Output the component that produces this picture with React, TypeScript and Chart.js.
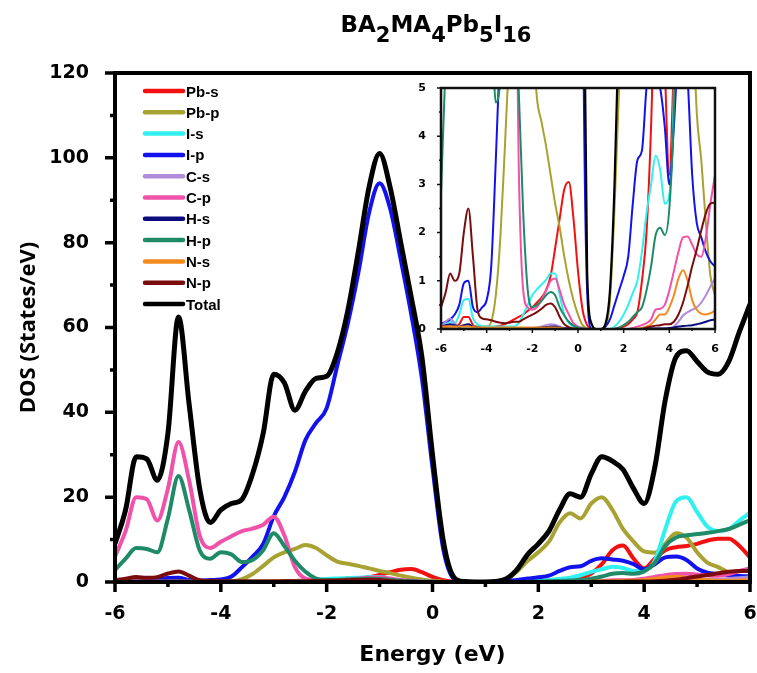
import React, { useEffect, useRef } from "react";
import { Chart, registerables } from "chart.js";

Chart.register(...registerables);

// ---------- data ----------
const energy = [
  -6.0, -5.8, -5.6, -5.4, -5.2, -5.0, -4.8, -4.6, -4.4, -4.2,
  -4.0, -3.8, -3.6, -3.4, -3.2, -3.0, -2.8, -2.6, -2.4, -2.2,
  -2.0, -1.8, -1.6, -1.4, -1.2, -1.0, -0.8, -0.6, -0.4, -0.2,
  0.0, 0.2, 0.4, 0.6, 0.8, 1.0, 1.2, 1.4, 1.6, 1.8,
  2.0, 2.2, 2.4, 2.6, 2.8, 3.0, 3.2, 3.4, 3.6, 3.8,
  4.0, 4.2, 4.4, 4.6, 4.8, 5.0, 5.2, 5.4, 5.6, 5.8,
  6.0,
];

const pbS = [
  0.02, 0.03, 0.05, 0.05, 0.1, 0.25, 0.25, 0.08, 0.04, 0.03,
  0.03, 0.03, 0.05, 0.07, 0.1, 0.15, 0.2, 0.25, 0.3, 0.38,
  0.45, 0.55, 0.65, 0.8, 1.1, 1.68, 2.3, 2.9, 3.05, 2.3,
  1.2, 0.4, 0.08, 0.01, 0, 0, 0, 0, 0.01, 0.03,
  0.05, 0.1, 0.2, 0.35, 1.0, 2.0, 4.2, 7.5, 8.6, 5.5,
  3.2, 5.5, 7.5, 8.2, 8.5, 9.0, 9.8, 10.2, 10.2, 8.5,
  5.8,
];

const pbP = [
  0.05, 0.05, 0.05, 0.05, 0.05, 0.05, 0.05, 0.05, 0.05, 0.05,
  0.05, 0.15, 0.7, 1.9, 3.8, 5.8, 7.0, 7.8, 8.7, 8.0,
  6.3, 4.8, 4.3, 3.8, 3.2, 2.6, 2.1, 1.5, 1.0, 0.6,
  0.3, 0.08, 0.01, 0, 0, 0, 0.05, 0.6, 2.5, 5.0,
  7.0, 9.5, 14, 16.2, 15, 18.5, 20, 17, 12.5, 9.5,
  7.2, 6.9, 9, 11.5, 10.5, 7, 4.5, 3.5, 2.2, 1.1,
  0.7,
];

const iS = [
  0.1, 0.12, 0.15, 0.12, 0.3, 0.6, 0.62, 0.22, 0.1, 0.06,
  0.05, 0.05, 0.05, 0.05, 0.05, 0.05, 0.05, 0.12, 0.3, 0.5,
  0.7, 0.82, 0.92, 1.02, 1.15, 1.15, 0.7, 0.3, 0.12, 0.05,
  0.02, 0.01, 0, 0, 0, 0, 0, 0, 0.05, 0.15,
  0.3, 0.5, 0.75, 1.0, 1.6, 2.4, 3.0, 3.6, 3.3, 2.6,
  2.8, 5, 12.5, 19, 20, 16.5, 13, 12, 12.5, 14.5,
  16.3,
];

const iP = [
  0.1, 0.15, 0.2, 0.3, 0.5, 0.95, 1.0, 0.45, 0.35, 0.45,
  0.6, 1.3, 3.5, 6, 9, 15.5, 20, 26, 33.5, 37.5,
  41, 51, 61, 73, 87, 94, 88, 76, 63, 48,
  27, 8, 0.8, 0, 0, 0, 0.05, 0.2, 0.5, 0.8,
  1.1, 1.5, 2.6, 3.5, 3.7, 5.0, 5.6, 5.3, 5.0, 4.2,
  3.0, 4.2, 5.8, 6.0, 5.2, 3.2, 2.2, 1.9, 1.6, 1.4,
  1.3,
];

const cS = [
  0.05, 0.15, 0.22, 0.12, 0.05, 0.08, 0.1, 0.05, 0.02, 0.02,
  0.02, 0.02, 0.02, 0.02, 0.02, 0.02, 0.02, 0.02, 0.02, 0.02,
  0.02, 0.03, 0.05, 0.08, 0.1, 0.09, 0.05, 0.02, 0.01, 0,
  0, 0, 0, 0, 0, 0, 0, 0, 0, 0,
  0, 0, 0, 0, 0, 0.01, 0.01, 0.01, 0.01, 0.01,
  0.02, 0.05, 0.15, 0.28, 0.35, 0.4, 0.45, 0.55, 0.7, 0.88,
  1.05,
];

const cP = [
  6, 12, 20, 19.5, 14.5, 22, 33, 24, 11, 8,
  9.5, 10.8, 12, 12.6, 13.5, 15.4, 11, 3.5, 0.8, 0.45,
  0.4, 0.45, 0.6, 0.8, 1.0, 1.05, 0.8, 0.5, 0.3, 0.12,
  0.05, 0.02, 0, 0, 0, 0, 0, 0, 0, 0,
  0, 0, 0.02, 0.05, 0.08, 0.12, 0.2, 0.4, 0.42, 0.5,
  0.8, 1.2, 1.6, 1.9, 1.92, 1.75, 1.55, 1.5, 1.9, 2.6,
  3.2,
];

const hS = [
  0.05, 0.08, 0.1, 0.08, 0.05, 0.08, 0.1, 0.05, 0.03, 0.02,
  0.02, 0.02, 0.02, 0.02, 0.02, 0.02, 0.02, 0.02, 0.02, 0.02,
  0.02, 0.02, 0.03, 0.04, 0.05, 0.05, 0.03, 0.02, 0.01, 0,
  0, 0, 0, 0, 0, 0, 0, 0, 0, 0,
  0, 0, 0, 0, 0, 0, 0.01, 0.01, 0.01, 0.01,
  0.02, 0.03, 0.05, 0.06, 0.07, 0.08, 0.1, 0.12, 0.15, 0.18,
  0.2,
];

const hP = [
  2.8, 5.5, 8, 7.8, 7, 15, 25, 17, 7.5, 5.5,
  7, 6.5, 4.7, 5.2, 7.5, 11.5, 8.5, 5.0, 2.4, 0.8,
  0.45, 0.5, 0.58, 0.7, 0.77, 0.7, 0.45, 0.28, 0.15, 0.07,
  0.03, 0.01, 0, 0, 0, 0, 0, 0, 0, 0.03,
  0.08, 0.15, 0.25, 0.35, 0.45, 0.8, 1.3, 1.95, 2.1, 1.95,
  2.5, 4.5, 8.5, 10.5, 11, 11.3, 11.6, 12, 12.5, 13.5,
  14.6,
];

const nS = [
  0.05, 0.05, 0.05, 0.05, 0.05, 0.05, 0.05, 0.04, 0.03, 0.03,
  0.03, 0.03, 0.03, 0.03, 0.03, 0.03, 0.03, 0.03, 0.03, 0.03,
  0.03, 0.03, 0.03, 0.03, 0.03, 0.03, 0.02, 0.01, 0, 0,
  0, 0, 0, 0, 0, 0, 0, 0, 0, 0,
  0, 0, 0, 0.01, 0.02, 0.05, 0.1, 0.2, 0.3, 0.3,
  0.45, 0.7, 1.05, 1.22, 1.0, 0.6, 0.4, 0.32, 0.3, 0.33,
  0.38,
];

const nP = [
  0.45, 0.75, 1.15, 1.0, 1.15, 2.0, 2.5, 1.5, 0.4, 0.22,
  0.2, 0.18, 0.15, 0.13, 0.12, 0.13, 0.15, 0.15, 0.2, 0.25,
  0.3, 0.35, 0.42, 0.5, 0.53, 0.45, 0.25, 0.1, 0.04, 0.01,
  0, 0, 0, 0, 0, 0, 0, 0, 0, 0,
  0, 0, 0, 0, 0, 0.03, 0.05, 0.07, 0.08, 0.1,
  0.1, 0.15, 0.3, 0.55, 0.9, 1.3, 1.65, 2.05, 2.4, 2.6,
  2.62,
];

const total = [
  9, 17, 29.5, 29, 24, 35, 62.5, 42, 22, 14,
  17, 18.5, 19.5, 25.5, 35, 49, 47, 40.5, 45, 48,
  48.5, 54, 64, 78, 93, 101, 93, 80, 67, 53,
  30, 10, 1.2, 0.1, 0, 0, 0.1, 0.8, 3, 6.5,
  9, 12, 17, 20.8, 20, 25.5, 29.5, 28.5, 26.5, 22,
  18.5, 27, 43, 53, 54.5, 52, 49.5, 49, 52, 59,
  65.5,
];

const seriesNames = ["Pb-s", "Pb-p", "I-s", "I-p", "C-s", "C-p", "H-s", "H-p", "N-s", "N-p", "Total"];
const seriesValues = [pbS, pbP, iS, iP, cS, cP, hS, hP, nS, nP, total];
const seriesColors = [
  "#f21010", "#a8a232", "#30f0f0", "#1212ee", "#b28cdc", "#f052aa",
  "#0c0c7c", "#1f8a68", "#f28a1e", "#7a0c0c", "#000000",
];

const mainXTicks = [-6, -4, -2, 0, 2, 4, 6];
const mainXMinor = [-5, -3, -1, 1, 3, 5];
const mainYTicks = [0, 20, 40, 60, 80, 100, 120];
const mainYMinor = [10, 30, 50, 70, 90, 110];
const insetXTicks = [-6, -4, -2, 0, 2, 4, 6];
const insetXMinor = [-5, -3, -1, 1, 3, 5];
const insetYTicks = [0, 1, 2, 3, 4, 5];
const insetYMinor = [0.5, 1.5, 2.5, 3.5, 4.5];

const titleParts: [string, boolean][] = [
  ["BA", false], ["2", true], ["MA", false], ["4", true],
  ["Pb", false], ["5", true], ["I", false], ["16", true],
];

// ---------- helpers ----------
function makeDatasets(width: number, totalWidth: number) {
  return seriesNames.map((name, i) => ({
    label: name,
    data: energy.map((e, k) => ({ x: e, y: seriesValues[i][k] })),
    borderColor: seriesColors[i],
    backgroundColor: seriesColors[i],
    borderWidth: name === "Total" ? totalWidth : width,
    pointRadius: 0,
    cubicInterpolationMode: "monotone" as const,
    fill: false,
    order: seriesNames.length - 1 - i,
  }));
}

function frameAndTicks(
  id: string,
  frameW: number,
  tickW: number,
  majorLen: number,
  minorLen: number,
  xMaj: number[],
  xMin: number[],
  yMaj: number[],
  yMin: number[],
  color: string,
  fillWhite: boolean
) {
  return {
    id,
    beforeDatasetsDraw(chart: any) {
      if (!fillWhite) return;
      const { ctx, chartArea: a } = chart;
      ctx.save();
      ctx.fillStyle = "#ffffff";
      ctx.fillRect(a.left, a.top, a.right - a.left, a.bottom - a.top);
      ctx.restore();
    },
    afterDatasetsDraw(chart: any) {
      const { ctx, chartArea: a, scales } = chart;
      const xs = scales.x;
      const ys = scales.y;
      ctx.save();
      ctx.strokeStyle = color;
      ctx.lineWidth = frameW;
      ctx.strokeRect(a.left, a.top, a.right - a.left, a.bottom - a.top);
      ctx.lineWidth = tickW;
      ctx.beginPath();
      const yTick = (v: number, len: number) => {
        const p = ys.getPixelForValue(v);
        ctx.moveTo(a.left - len, p);
        ctx.lineTo(a.left, p);
      };
      const xTick = (v: number, len: number) => {
        const p = xs.getPixelForValue(v);
        ctx.moveTo(p, a.bottom);
        ctx.lineTo(p, a.bottom + len);
      };
      yMaj.forEach((v) => yTick(v, majorLen));
      yMin.forEach((v) => yTick(v, minorLen));
      xMaj.forEach((v) => xTick(v, majorLen));
      xMin.forEach((v) => xTick(v, minorLen));
      ctx.stroke();
      ctx.restore();
    },
  };
}

const legendPlugin = {
  id: "customLegend",
  afterDraw(chart: any) {
    const { ctx } = chart;
    ctx.save();
    ctx.font = "bold 15px 'Liberation Sans', Arial, sans-serif";
    ctx.textBaseline = "alphabetic";
    ctx.textAlign = "left";
    seriesNames.forEach((name, i) => {
      const y = 91 + i * 21.3;
      ctx.strokeStyle = seriesColors[i];
      ctx.lineWidth = 4.5;
      ctx.lineCap = "round";
      ctx.beginPath();
      ctx.moveTo(145, y);
      ctx.lineTo(183, y);
      ctx.stroke();
      ctx.fillStyle = "#000";
      ctx.fillText(name, 186, y + 5.5);
    });
    ctx.restore();
  },
};

const titlePlugin = {
  id: "formulaTitle",
  afterDraw(chart: any) {
    const { ctx } = chart;
    ctx.save();
    const bigFont = "bold 23px 'DejaVu Sans'";
    const subFont = "bold 21px 'DejaVu Sans'";
    let w = 0;
    titleParts.forEach(([t, sub]) => {
      ctx.font = sub ? subFont : bigFont;
      w += ctx.measureText(t).width;
    });
    let x = 436 - w / 2;
    ctx.fillStyle = "#000";
    ctx.textBaseline = "alphabetic";
    ctx.textAlign = "left";
    titleParts.forEach(([t, sub]) => {
      ctx.font = sub ? subFont : bigFont;
      ctx.fillText(t, x, sub ? 42 : 32);
      x += ctx.measureText(t).width;
    });
    ctx.restore();
  },
};

const tickFont = { family: "'DejaVu Sans'", weight: "bold" as const, size: 19 };
const insetTickFont = { family: "'DejaVu Sans'", weight: "bold" as const, size: 11 };

function fixX(h: number) {
  return (s: any) => {
    s.height = h;
    s.paddingLeft = 0;
    s.paddingRight = 0;
  };
}
function fixY(w: number) {
  return (s: any) => {
    s.width = w;
    s.paddingTop = 0;
    s.paddingBottom = 0;
  };
}

export default function App() {
  const mainRef = useRef<HTMLCanvasElement>(null);
  const insetRef = useRef<HTMLCanvasElement>(null);

  useEffect(() => {
    const main = new Chart(mainRef.current as HTMLCanvasElement, {
      type: "line",
      data: { datasets: makeDatasets(4, 5) as any },
      options: {
        responsive: false,
        animation: false,
        events: [],
        layout: { padding: { left: 0, right: 7, top: 73, bottom: 0 } },
        plugins: { legend: { display: false }, tooltip: { enabled: false }, title: { display: false } },
        scales: {
          x: {
            type: "linear",
            min: -6,
            max: 6,
            afterBuildTicks: (s: any) => {
              s.ticks = mainXTicks.map((v) => ({ value: v }));
            },
            ticks: { color: "#000", font: tickFont, padding: 13, maxRotation: 0, autoSkip: false, callback: (v: any) => String(v) },
            grid: { display: false },
            border: { display: false },
            title: {
              display: true,
              text: "Energy (eV)",
              color: "#000",
              font: { family: "'DejaVu Sans'", weight: "bold", size: 22 },
              padding: { top: 0, bottom: 5 },
            },
            afterFit: fixX(91),
          },
          y: {
            type: "linear",
            min: 0,
            max: 120,
            afterBuildTicks: (s: any) => {
              s.ticks = mainYTicks.map((v) => ({ value: v }));
            },
            ticks: { color: "#000", font: tickFont, padding: 18, autoSkip: false, callback: (v: any) => String(v) },
            grid: { display: false },
            border: { display: false },
            title: {
              display: true,
              text: "DOS (States/eV)",
              color: "#000",
              font: { family: "'Open Sans'", weight: "bold", size: 22 },
              padding: { top: 16, bottom: 0 },
            },
            afterFit: fixY(115),
          },
        },
      } as any,
      plugins: [
        frameAndTicks("mainDecor", 4, 3.5, 10, 5, mainXTicks, mainXMinor, mainYTicks, mainYMinor, "#000", false),
        legendPlugin,
        titlePlugin,
      ],
    });

    const inset = new Chart(insetRef.current as HTMLCanvasElement, {
      type: "line",
      data: { datasets: makeDatasets(2, 2.2) as any },
      options: {
        responsive: false,
        animation: false,
        events: [],
        layout: { padding: { left: 0, right: 15, top: 10, bottom: 0 } },
        plugins: { legend: { display: false }, tooltip: { enabled: false }, title: { display: false } },
        scales: {
          x: {
            type: "linear",
            min: -6,
            max: 6,
            afterBuildTicks: (s: any) => {
              s.ticks = insetXTicks.map((v) => ({ value: v }));
            },
            ticks: { color: "#000", font: insetTickFont, padding: 6, maxRotation: 0, autoSkip: false, callback: (v: any) => String(v) },
            grid: { display: false },
            border: { display: false },
            afterFit: fixX(29),
          },
          y: {
            type: "linear",
            min: 0,
            max: 5,
            afterBuildTicks: (s: any) => {
              s.ticks = insetYTicks.map((v) => ({ value: v }));
            },
            ticks: { color: "#000", font: insetTickFont, padding: 7, autoSkip: false, callback: (v: any) => String(v) },
            grid: { display: false },
            border: { display: false },
            afterFit: fixY(41),
          },
        },
      } as any,
      plugins: [frameAndTicks("insetDecor", 2.5, 1.5, 4, 2, insetXTicks, insetXMinor, insetYTicks, insetYMinor, "#111", true)],
    });

    return () => {
      main.destroy();
      inset.destroy();
    };
  }, []);

  return (
    <div style={{ position: "absolute", left: 0, top: 0, width: 757, height: 673, background: "#fff" }}>
      <canvas ref={mainRef} width={757} height={673} style={{ position: "absolute", left: 0, top: 0 }} />
      <canvas ref={insetRef} width={330} height={280} style={{ position: "absolute", left: 400, top: 78 }} />
    </div>
  );
}
